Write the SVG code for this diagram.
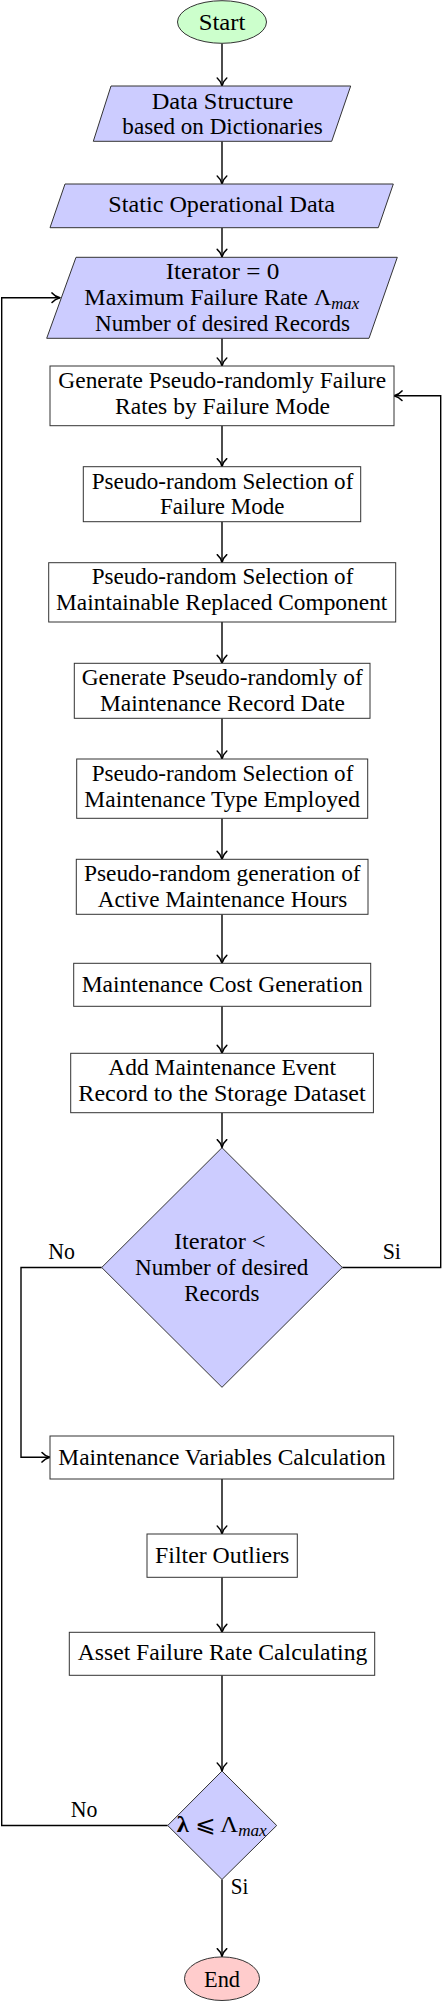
<svg xmlns="http://www.w3.org/2000/svg" width="442" height="2001" viewBox="0 0 442 2001">
<style>
.t{font-family:"Liberation Serif","DejaVu Serif","DejaVu Sans",serif;font-size:23px;fill:#000;text-anchor:middle}
.box{fill:#fff;stroke:#333;stroke-width:1}
.io{fill:#ccccff;stroke:#333;stroke-width:1}
.dec{fill:#ccccff;stroke:#333;stroke-width:1}
.con{fill:none;stroke:#000;stroke-width:1.4}
.sub{font-style:italic;font-size:16px}
</style>
<defs>
<marker id="arr" viewBox="-10 -6 11 12" refX="0" refY="0" markerWidth="11" markerHeight="12" markerUnits="userSpaceOnUse" orient="auto">
<path d="M-8,-4.8 C-6,-2.4 -2.5,-0.6 0,0 C-2.5,0.6 -6,2.4 -8,4.8" fill="none" stroke="#000" stroke-width="1.5" stroke-linecap="round" stroke-linejoin="round"/>
</marker>
</defs>
<rect width="442" height="2001" fill="#fff"/>
<g id="connectors">
<path class="con" marker-end="url(#arr)" d="M222,43.5 V86"/>
<path class="con" marker-end="url(#arr)" d="M222,141.3 V184"/>
<path class="con" marker-end="url(#arr)" d="M222,227.7 V257.3"/>
<path class="con" marker-end="url(#arr)" d="M222,338.3 V366"/>
<path class="con" marker-end="url(#arr)" d="M222,425.7 V466.7"/>
<path class="con" marker-end="url(#arr)" d="M222,521.7 V562.7"/>
<path class="con" marker-end="url(#arr)" d="M222,622 V663.3"/>
<path class="con" marker-end="url(#arr)" d="M222,718.3 V759"/>
<path class="con" marker-end="url(#arr)" d="M222,818.3 V859.3"/>
<path class="con" marker-end="url(#arr)" d="M222,914.3 V963.3"/>
<path class="con" marker-end="url(#arr)" d="M222,1006.3 V1053.3"/>
<path class="con" marker-end="url(#arr)" d="M222,1112.7 V1147.7"/>
<path class="con" marker-end="url(#arr)" d="M342.3,1267.5 H440.7 V395.7 H394"/>
<path class="con" marker-end="url(#arr)" d="M101.7,1267.5 H21 V1457.3 H50"/>
<path class="con" marker-end="url(#arr)" d="M222,1479 V1534"/>
<path class="con" marker-end="url(#arr)" d="M222,1577.3 V1632.3"/>
<path class="con" marker-end="url(#arr)" d="M222,1675.3 V1771"/>
<path class="con" marker-end="url(#arr)" d="M167.7,1825.5 H1.7 V297.7 H60"/>
<path class="con" marker-end="url(#arr)" d="M222,1879.5 V1956.7"/>
<text class="t" x="61.7" y="1259.3" textLength="26.7" lengthAdjust="spacingAndGlyphs">No</text>
<text class="t" x="391.8" y="1259.3" textLength="18.3" lengthAdjust="spacingAndGlyphs">Si</text>
<text class="t" x="84" y="1817.3" textLength="26.7" lengthAdjust="spacingAndGlyphs">No</text>
<text class="t" x="239.5" y="1894" textLength="17.6" lengthAdjust="spacingAndGlyphs">Si</text>
</g>
<g id="start">
<ellipse cx="222" cy="22" rx="44.5" ry="21.3" fill="#ccffcc" stroke="#333" stroke-width="1"/>
<text class="t" x="222" y="30" textLength="46.7" lengthAdjust="spacingAndGlyphs">Start</text>
</g>
<g id="data-structure">
<polygon class="io" points="111,86 350.7,86 331.7,141.3 93.3,141.3"/>
<text class="t" x="222.5" y="108.7" textLength="141.7" lengthAdjust="spacingAndGlyphs">Data Structure</text>
<text class="t" x="222.5" y="134" textLength="200.3" lengthAdjust="spacingAndGlyphs">based on Dictionaries</text>
</g>
<g id="static-data">
<polygon class="io" points="65,184 393.3,184 378.3,227.7 50,227.7"/>
<text class="t" x="221.7" y="211.7" textLength="226.7" lengthAdjust="spacingAndGlyphs">Static Operational Data</text>
</g>
<g id="iterator-init">
<polygon class="io" points="76,257.3 397.3,257.3 369,338.3 46.7,338.3"/>
<text class="t" x="222.5" y="279.3" textLength="113.7" lengthAdjust="spacingAndGlyphs">Iterator = 0</text>
<text class="t" x="221.7" y="305" textLength="274.7" lengthAdjust="spacingAndGlyphs">Maximum Failure Rate Λ<tspan class="sub" dy="4">max</tspan></text>
<text class="t" x="222.5" y="331" textLength="255" lengthAdjust="spacingAndGlyphs">Number of desired Records</text>
</g>
<g id="gen-failure-rates">
<rect class="box" x="50" y="366" width="344" height="59.7"/>
<text class="t" x="222.2" y="388" textLength="327.7" lengthAdjust="spacingAndGlyphs">Generate Pseudo-randomly Failure</text>
<text class="t" x="222.5" y="414.3" textLength="215" lengthAdjust="spacingAndGlyphs">Rates by Failure Mode</text>
</g>
<g id="sel-failure-mode">
<rect class="box" x="83.3" y="466.7" width="277.4" height="55"/>
<text class="t" x="222.5" y="489" textLength="261.7" lengthAdjust="spacingAndGlyphs">Pseudo-random Selection of</text>
<text class="t" x="222.2" y="514.3" textLength="124.3" lengthAdjust="spacingAndGlyphs">Failure Mode</text>
</g>
<g id="sel-component">
<rect class="box" x="48.7" y="562.7" width="347" height="59.3"/>
<text class="t" x="222.5" y="584" textLength="261.7" lengthAdjust="spacingAndGlyphs">Pseudo-random Selection of</text>
<text class="t" x="221.7" y="610" textLength="331.3" lengthAdjust="spacingAndGlyphs">Maintainable Replaced Component</text>
</g>
<g id="gen-date">
<rect class="box" x="74.3" y="663.3" width="295.7" height="55"/>
<text class="t" x="222.2" y="685" textLength="281" lengthAdjust="spacingAndGlyphs">Generate Pseudo-randomly of</text>
<text class="t" x="222.5" y="711" textLength="245" lengthAdjust="spacingAndGlyphs">Maintenance Record Date</text>
</g>
<g id="sel-type">
<rect class="box" x="76.7" y="759" width="291" height="59.3"/>
<text class="t" x="222.5" y="781.3" textLength="261.7" lengthAdjust="spacingAndGlyphs">Pseudo-random Selection of</text>
<text class="t" x="222.2" y="806.7" textLength="275.7" lengthAdjust="spacingAndGlyphs">Maintenance Type Employed</text>
</g>
<g id="gen-hours">
<rect class="box" x="76.3" y="859.3" width="291.7" height="55"/>
<text class="t" x="222.3" y="881" textLength="276.7" lengthAdjust="spacingAndGlyphs">Pseudo-random generation of</text>
<text class="t" x="222.5" y="906.7" textLength="249.7" lengthAdjust="spacingAndGlyphs">Active Maintenance Hours</text>
</g>
<g id="cost-gen">
<rect class="box" x="73.7" y="963.3" width="297" height="43"/>
<text class="t" x="222.2" y="991.7" textLength="281" lengthAdjust="spacingAndGlyphs">Maintenance Cost Generation</text>
</g>
<g id="add-record">
<rect class="box" x="70.7" y="1053.3" width="302.7" height="59.4"/>
<text class="t" x="222.2" y="1075" textLength="227.7" lengthAdjust="spacingAndGlyphs">Add Maintenance Event</text>
<text class="t" x="222" y="1100.7" textLength="287.3" lengthAdjust="spacingAndGlyphs">Record to the Storage Dataset</text>
</g>
<g id="decision-iterator">
<polygon class="dec" points="222,1147.7 342.3,1267.5 222,1387.3 101.7,1267.5"/>
<text class="t" x="219.8" y="1249" textLength="91.7" lengthAdjust="spacingAndGlyphs">Iterator &lt;</text>
<text class="t" x="221.7" y="1275" textLength="173.3" lengthAdjust="spacingAndGlyphs">Number of desired</text>
<text class="t" x="221.8" y="1300.7" textLength="75" lengthAdjust="spacingAndGlyphs">Records</text>
</g>
<g id="maint-vars">
<rect class="box" x="50" y="1436" width="343.7" height="43"/>
<text class="t" x="222" y="1465" textLength="327.3" lengthAdjust="spacingAndGlyphs">Maintenance Variables Calculation</text>
</g>
<g id="filter">
<rect class="box" x="147" y="1534" width="150.3" height="43.3"/>
<text class="t" x="222.2" y="1563.3" textLength="134.3" lengthAdjust="spacingAndGlyphs">Filter Outliers</text>
</g>
<g id="asset-rate">
<rect class="box" x="69.3" y="1632.3" width="305.4" height="43"/>
<text class="t" x="222.5" y="1660" textLength="289.7" lengthAdjust="spacingAndGlyphs">Asset Failure Rate Calculating</text>
</g>
<g id="decision-lambda">
<polygon class="dec" points="222,1771 276.7,1825.5 222,1879.5 167.7,1825.5"/>
<text class="t" x="221.7" y="1832.3" textLength="90" lengthAdjust="spacingAndGlyphs"><tspan font-weight="bold">λ</tspan> ⩽ Λ<tspan class="sub" dy="4">max</tspan></text>
</g>
<g id="end">
<ellipse cx="222" cy="1978.7" rx="37.5" ry="21.8" fill="#ffcccc" stroke="#333" stroke-width="1"/>
<text class="t" x="222" y="1986.7" textLength="36" lengthAdjust="spacingAndGlyphs">End</text>
</g>
</svg>
